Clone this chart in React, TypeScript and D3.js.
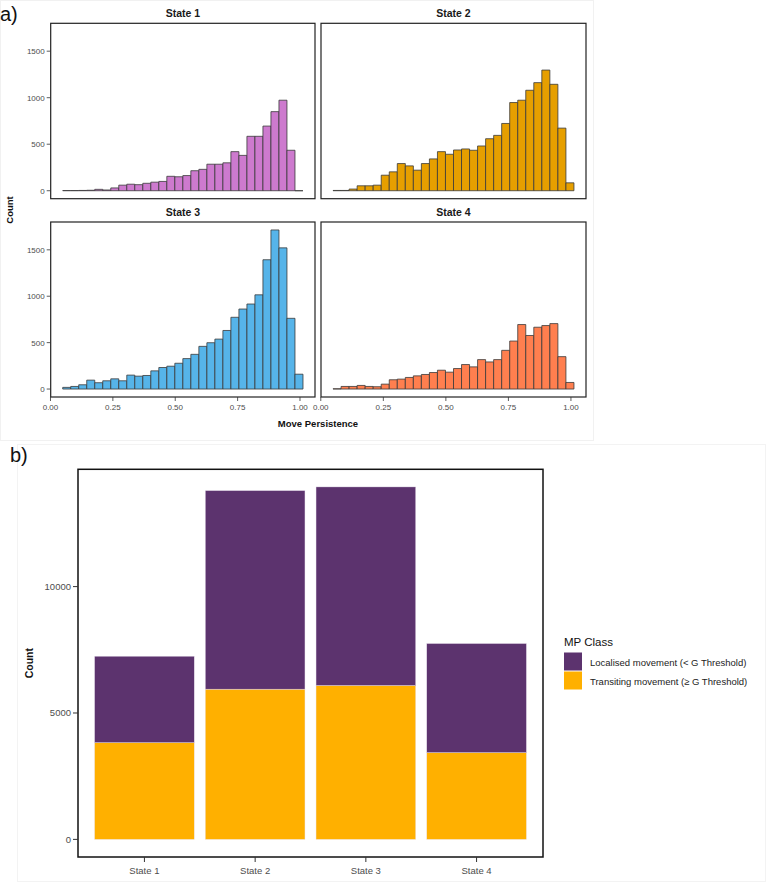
import React from 'react'
import * as d3 from 'd3'

// histogram bins (ggplot default, 30 bins)
const binStart = 0.049
const binWidth = 0.0321

const stateNames = ['State 1', 'State 2', 'State 3', 'State 4']
const stateColors = ['#CD7ACE', '#E69F00', '#56B4E9', '#FF7F4F']

const state1Counts = [2, 2, 3, 5, 15, 8, 30, 60, 70, 65, 80, 92, 100, 155, 150, 163, 215, 230, 285, 285, 300, 420, 380, 585, 585, 695, 850, 973, 435, 0]
const state2Counts = [3, 3, 18, 53, 53, 60, 167, 203, 292, 267, 221, 292, 342, 420, 392, 438, 449, 435, 481, 559, 595, 723, 948, 973, 1080, 1162, 1297, 1144, 673, 85]
const state3Counts = [18, 28, 46, 96, 68, 89, 110, 89, 150, 139, 146, 196, 232, 246, 278, 328, 374, 460, 499, 538, 631, 773, 862, 916, 1015, 1393, 1714, 1521, 762, 160]
const state4Counts = [3, 28, 28, 39, 28, 25, 53, 100, 107, 125, 142, 157, 178, 203, 182, 221, 264, 239, 317, 292, 317, 417, 517, 695, 577, 666, 684, 705, 349, 71]
const histCounts = [state1Counts, state2Counts, state3Counts, state4Counts]

const histXTicks = [0, 0.25, 0.5, 0.75, 1.0]
const histYTicks = [0, 500, 1000, 1500]

// part b: stacked counts per state
const transitingCounts = [3828, 5943, 6089, 3433]
const localisedCounts = [3417, 7854, 7854, 4314]
const classKeys = ['transiting', 'localised']
const classLabels = ['Localised movement (< G Threshold)', 'Transiting movement (\u2265 G Threshold)']
const classColors = { localised: '#5C336E', transiting: '#FFB000' }
const barYTicks = [0, 5000, 10000]

const font = 'Liberation Sans, Arial, sans-serif'
const tickGray = '#4D4D4D'

function HistPanel({ idx, x0, x1, y0, y1, showX, showY }: any) {
  const counts = histCounts[idx]
  const nBins = counts.length
  const lo = binStart
  const hi = binStart + nBins * binWidth
  const pad = (hi - lo) * 0.05
  const x = d3.scaleLinear().domain([lo - pad, hi + pad]).range([x0, x1])
  const maxAll = d3.max(histCounts.flat()) as number
  const y = d3.scaleLinear().domain([-maxAll * 0.05, maxAll * 1.05]).range([y1, y0])

  return (
    <g>
      <text x={(x0 + x1) / 2} y={y0 - 6} textAnchor="middle" fontSize={10.5} fontWeight="bold" fill="#1a1a1a">
        {stateNames[idx]}
      </text>
      {counts.map((c, i) => {
        const bx0 = x(lo + i * binWidth)
        const bx1 = x(lo + (i + 1) * binWidth)
        const by = y(c)
        const b0 = y(0)
        return (
          <path
            key={i}
            d={`M${bx0},${b0}V${by}H${bx1}V${b0}Z`}
            fill={stateColors[idx]}
            stroke="#3a3a3a"
            strokeWidth={0.8}
          />
        )
      })}
      <rect x={x0} y={y0} width={x1 - x0} height={y1 - y0} fill="none" stroke="#222" strokeWidth={1.2} />
      {showY &&
        histYTicks.map(t => (
          <g key={t}>
            <line x1={x0 - 4} x2={x0} y1={y(t)} y2={y(t)} stroke="#333" strokeWidth={0.8} />
            <text x={x0 - 6} y={y(t) + 3} textAnchor="end" fontSize={8} fill={tickGray}>
              {t}
            </text>
          </g>
        ))}
      {showX &&
        histXTicks.map(t => (
          <g key={t}>
            <line x1={x(t)} x2={x(t)} y1={y1} y2={y1 + 4} stroke="#333" strokeWidth={0.8} />
            <text x={x(t)} y={y1 + 13} textAnchor="middle" fontSize={8} fill={tickGray}>
              {t.toFixed(2)}
            </text>
          </g>
        ))}
    </g>
  )
}

function StackedBars({ x0, x1, y0, y1 }: any) {
  const rows = stateNames.map((s, i) => ({ state: s, transiting: transitingCounts[i], localised: localisedCounts[i] }))
  const series = d3.stack<any>().keys(classKeys)(rows)
  const maxTotal = d3.max(rows, d => d.transiting + d.localised) as number
  // ggplot: 0.9-wide bars, 0.6 units of expansion on each side
  const x = d3.scaleBand().domain(stateNames).range([x0, x1]).paddingInner(0.1).paddingOuter(0.15)
  const y = d3.scaleLinear().domain([-maxTotal * 0.05, maxTotal * 1.05]).range([y1, y0])

  return (
    <g>
      {series.map(s =>
        s.map((d, i) => (
          <rect
            key={s.key + i}
            x={x(rows[i].state)}
            width={x.bandwidth()}
            y={y(d[1])}
            height={y(d[0]) - y(d[1])}
            fill={(classColors as any)[s.key]}
            stroke="#E8E0EE"
            strokeWidth={0.4}
          />
        ))
      )}
      <rect x={x0} y={y0} width={x1 - x0} height={y1 - y0} fill="none" stroke="#111" strokeWidth={1.5} />
      {barYTicks.map(t => (
        <g key={t}>
          <line x1={x0 - 5} x2={x0} y1={y(t)} y2={y(t)} stroke="#333" strokeWidth={1} />
          <text x={x0 - 7} y={y(t) + 3.5} textAnchor="end" fontSize={9.5} fill={tickGray}>
            {t}
          </text>
        </g>
      ))}
      {stateNames.map(s => (
        <g key={s}>
          <line x1={x(s)! + x.bandwidth() / 2} x2={x(s)! + x.bandwidth() / 2} y1={y1} y2={y1 + 5} stroke="#333" strokeWidth={1} />
          <text x={x(s)! + x.bandwidth() / 2} y={y1 + 17} textAnchor="middle" fontSize={9.5} fill={tickGray}>
            {s}
          </text>
        </g>
      ))}
      <text transform={`translate(33,${(y0 + y1) / 2}) rotate(-90)`} textAnchor="middle" fontSize={10.5} fontWeight="bold" fill="#111">
        Count
      </text>
    </g>
  )
}

export default function App() {
  const cols = [[50.7, 315], [321, 586]]
  const rowsY = [[23.3, 198.7], [222, 397]]

  return (
    <svg width={766} height={882} style={{ position: 'absolute', left: 0, top: 0, background: '#fff' }} fontFamily={font}>
      <rect x={0.5} y={0.5} width={593} height={440} fill="#fff" stroke="#F1F1F1" />
      <rect x={17.5} y={444.5} width={748} height={437} fill="#fff" stroke="#F3F3F3" />

      <text x={0} y={21} fontSize={20} fill="#111">a)</text>
      {histCounts.map((_, i) => {
        const c = cols[i % 2]
        const r = rowsY[Math.floor(i / 2)]
        return (
          <HistPanel key={i} idx={i} x0={c[0]} x1={c[1]} y0={r[0]} y1={r[1]} showX={i >= 2} showY={i % 2 === 0} />
        )
      })}
      <text transform="translate(13,210) rotate(-90)" textAnchor="middle" fontSize={9.5} fontWeight="bold" fill="#111">
        Count
      </text>
      <text x={318} y={427} textAnchor="middle" fontSize={9.5} fontWeight="bold" fill="#111">
        Move Persistence
      </text>

      <text x={10} y={462} fontSize={20} fill="#111">b)</text>
      <StackedBars x0={78} x1={543} y0={469.3} y1={857} />

      <text x={564} y={646} fontSize={11.5} fill="#111">MP Class</text>
      {['localised', 'transiting'].map((k, i) => (
        <g key={k}>
          <rect x={564} y={652.5 + i * 19} width={18} height={18} fill={(classColors as any)[k]} />
          <text x={590} y={665.5 + i * 19} fontSize={9.5} fill="#222">
            {classLabels[i]}
          </text>
        </g>
      ))}
    </svg>
  )
}
